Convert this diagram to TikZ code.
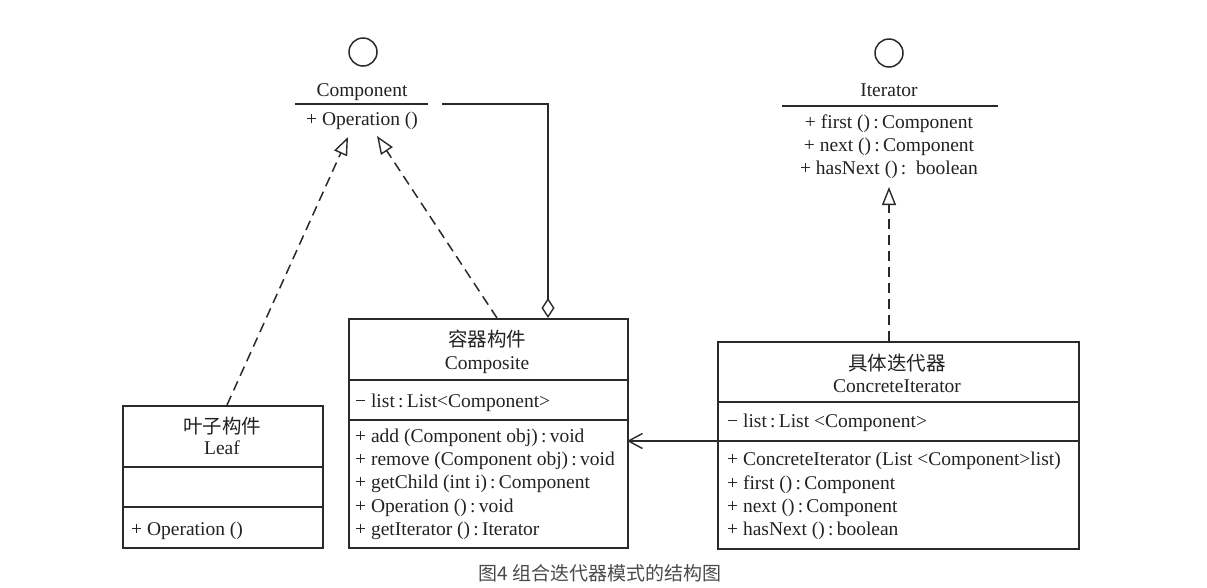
\documentclass[tikz,border=0pt]{standalone}
\usepackage{fontspec}
\setmainfont{Liberation Serif}
\newfontfamily\cjk{Noto Sans CJK SC}
\usetikzlibrary{arrows.meta}
\definecolor{lc}{HTML}{2A2A2A}
\definecolor{tc}{HTML}{222222}
\definecolor{capc}{HTML}{4A4A4A}
\begin{document}
\begin{tikzpicture}[x=1pt,y=-1pt,
  every node/.style={inner sep=0pt, font=\fontsize{19.5}{23}\selectfont},
  ln/.style={draw=lc, line width=1.5pt},
  txt/.style={anchor=base, text=tc},
  mem/.style={anchor=base west, text=tc},
  classbox/.style={draw=lc, line width=1.5pt, anchor=north west, fill=none},
  realize/.style={draw=lc, line width=1.5pt, dash pattern=on 10pt off 6pt,
    -{Triangle[open,length=18pt,width=14pt,line width=1.4pt]}},
  assoc/.style={draw=lc, line width=1.5pt, -{Straight Barb[length=14pt,width=15pt,line width=1.4pt]}},
  aggr/.style={draw=lc, line width=1.5pt, -{Diamond[open,length=20pt,width=13pt,line width=1.4pt]}},
  lollipop/.style={draw=lc, line width=1.5pt, circle, minimum size=28pt}
]
\useasboundingbox (0,0) rectangle (1207,587);

% ---------- Component interface ----------
\node[lollipop] (compcirc) at (363,52) {};
\node[txt] (compname) at (362,96) {Component};
\coordinate (compL) at (295,104);
\coordinate (compR) at (428,104);
\draw[ln] (compL) -- (compR);
\node[txt] (compop) at (362,125) {+ Operation ()};

% ---------- Iterator interface ----------
\node[lollipop] (itcirc) at (889,53) {};
\node[txt] (itname) at (889,96) {Iterator};
\coordinate (itL) at (782,106);
\coordinate (itR) at (998,106);
\draw[ln] (itL) -- (itR);
\node[txt] (itm1) at (889,128) {+ first ()\,:\,Component};
\node[txt] (itm2) at (889,151) {+ next ()\,:\,Component};
\node[txt] (itm3) at (889,174) {+ hasNext ()\,: \,boolean};

% ---------- Leaf ----------
\node[classbox, minimum width=200pt, minimum height=142pt] (leaf) at (122,405) {};
\node[txt] (leafcn) at (222,433) {\cjk 叶子构件};
\node[txt] (leafen) at (222,454) {Leaf};
\draw[ln] (122,467) -- (322,467);
\draw[ln] (122,507) -- (322,507);
\node[mem] (leafop) at (131,535) {+ Operation ()};

% ---------- Composite ----------
\node[classbox, minimum width=279pt, minimum height=229pt] (composite) at (348,318) {};
\node[txt] (compcn) at (487,346) {\cjk 容器构件};
\node[txt] (compen) at (487,369) {Composite};
\draw[ln] (348,380) -- (627,380);
\node[mem] (compattr) at (355,407) {− list\,:\,List<Component>};
\draw[ln] (348,420) -- (627,420);
\node[mem] (cm1) at (355,442) {+ add (Component obj)\,:\,void};
\node[mem] (cm2) at (355,465) {+ remove (Component obj)\,:\,void};
\node[mem] (cm3) at (355,488) {+ getChild (int i)\,:\,Component};
\node[mem] (cm4) at (355,512) {+ Operation ()\,:\,void};
\node[mem] (cm5) at (355,535) {+ getIterator ()\,:\,Iterator};

% ---------- ConcreteIterator ----------
\node[classbox, minimum width=361pt, minimum height=207pt] (concrete) at (717,341) {};
\node[txt] (concn) at (897,370) {\cjk 具体迭代器};
\node[txt] (conen) at (897,392) {ConcreteIterator};
\draw[ln] (717,402) -- (1078,402);
\node[mem] (conattr) at (727,427) {− list\,:\,List <Component>};
\draw[ln] (717,441) -- (1078,441);
\node[mem] (conm1) at (727,465) {+ ConcreteIterator (List <Component>list)};
\node[mem] (conm2) at (727,489) {+ first ()\,:\,Component};
\node[mem] (conm3) at (727,512) {+ next ()\,:\,Component};
\node[mem] (conm4) at (727,535) {+ hasNext ()\,:\,boolean};

% ---------- connectors ----------
\coordinate (leafTop) at (227,405);
\coordinate (tipA) at (348,137);
\draw[realize] (leafTop) -- (tipA);

\coordinate (compTop) at (497,318);
\coordinate (tipB) at (377,136);
\draw[realize] (compTop) -- (tipB);

\coordinate (conTop) at (889,341);
\coordinate (tipC) at (889,187);
\draw[realize] (conTop) -- (tipC);

\coordinate (aggStart) at (442,104);
\coordinate (aggEnd) at (548,318);
\draw[aggr] (aggStart) -| (aggEnd);

\coordinate (asA) at (717,441);
\coordinate (asB) at (627,441);
\draw[assoc] (asA) -- (asB);

% ---------- caption ----------
\node[text=capc, font=\cjk\fontsize{19}{22}\selectfont] (caption) at (600,573) {图4 组合迭代器模式的结构图};
\end{tikzpicture}
\end{document}
